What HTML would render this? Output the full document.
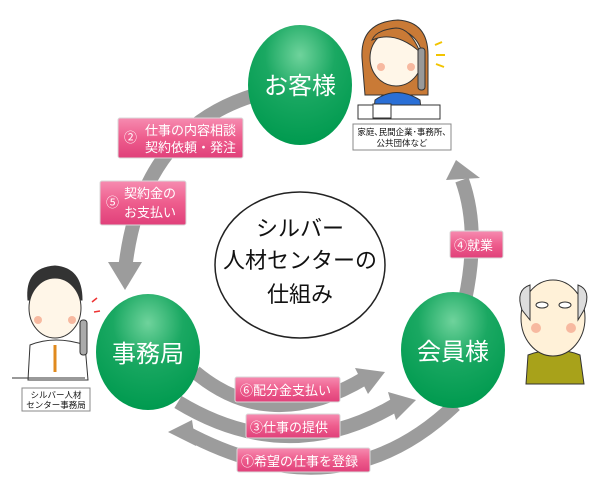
<!DOCTYPE html>
<html><head><meta charset="utf-8"><style>
html,body{margin:0;padding:0;background:#fff;}
svg text{font-family:"Liberation Sans","Noto Sans CJK JP",sans-serif;}
</style></head><body>
<svg width="600" height="491" viewBox="0 0 600 491" xmlns="http://www.w3.org/2000/svg">
<defs>
<radialGradient id="g" cx="50%" cy="25%" r="75%">
<stop offset="0" stop-color="#6fd39c"/><stop offset="0.45" stop-color="#1aa862"/><stop offset="1" stop-color="#009a4f"/></radialGradient>
<linearGradient id="p" x1="0" y1="0" x2="0" y2="1">
<stop offset="0" stop-color="#f68bb0"/><stop offset="0.5" stop-color="#ee5d8d"/><stop offset="1" stop-color="#e0407a"/></linearGradient>
</defs>
<g fill="none" stroke="#9c9c9c" stroke-width="14">
<path d="M255 95 Q140 130 125 270"/>
<path d="M465 300 Q480 230 462 180"/>
<path d="M195 372 Q270 435 365 378"/>
<path d="M178 402 Q290 470 400 402"/>
<path d="M455 405 Q340 515 185 432"/>
</g>
<g fill="#9c9c9c">
<polygon points="108,262 142,262 125,290"/>
<polygon points="446,180 480,178 456,160"/>
<polygon points="355,368 385,372 368,394"/>
<polygon points="388,392 416,400 396,420"/>
<polygon points="192,420 168,432 196,446"/>
</g>
<ellipse cx="300" cy="265" rx="85" ry="73" fill="#fff" stroke="#222" stroke-width="1.5"/>
<g font-size="22" fill="#111" text-anchor="middle">
<text x="300" y="236">シルバー</text>
<text x="300" y="268">人材センターの</text>
<text x="300" y="302">仕組み</text>
</g>
<ellipse cx="300" cy="85" rx="52" ry="60" fill="url(#g)"/>
<ellipse cx="148" cy="352" rx="52" ry="58" fill="url(#g)"/>
<ellipse cx="453" cy="350" rx="52" ry="58" fill="url(#g)"/>
<g font-size="24" fill="#fff" text-anchor="middle">
<text x="300" y="94">お客様</text>
<text x="148" y="362">事務局</text>
<text x="453" y="360">会員様</text>
</g>
<g fill="url(#p)" stroke="#d9d9d9" stroke-width="1">
<rect x="118" y="118" width="125" height="40" rx="2"/>
<rect x="100" y="181" width="86" height="44" rx="2"/>
<rect x="450" y="231" width="53" height="27" rx="2"/>
<rect x="235" y="377" width="105" height="25" rx="2"/>
<rect x="246" y="414" width="94" height="24" rx="2"/>
<rect x="237" y="448" width="133" height="24" rx="2"/>
</g>
<g font-size="13" fill="#fff">
<text x="124" y="142">②</text>
<text x="145" y="135">仕事の内容相談</text>
<text x="145" y="152">契約依頼・発注</text>
<text x="106" y="207">⑤</text>
<text x="124" y="198">契約金の</text>
<text x="124" y="217">お支払い</text>
<text x="454" y="250">④就業</text>
<text x="240" y="395">⑥配分金支払い</text>
<text x="250" y="432">③仕事の提供</text>
<text x="241" y="466">①希望の仕事を登録</text>
</g>
<rect x="353" y="124" width="98" height="26" fill="#fff" stroke="#888" stroke-width="1"/>
<text x="402" y="135" font-size="8.5" text-anchor="middle" fill="#111">家庭､民間企業･事務所､</text>
<text x="402" y="146" font-size="8.5" text-anchor="middle" fill="#111">公共団体など</text>
<rect x="22" y="388" width="68" height="23" fill="#fff" stroke="#888" stroke-width="1"/>
<text x="56" y="398" font-size="8.5" text-anchor="middle" fill="#111">シルバー人材</text>
<text x="56" y="408" font-size="8.5" text-anchor="middle" fill="#111">センター事務局</text>
<!-- woman -->
<g stroke="#333" stroke-width="1">
<path d="M362 58 Q360 22 398 20 Q428 22 428 55 L428 95 L365 95 Z" fill="#c97a36"/>
<ellipse cx="396" cy="58" rx="26" ry="28" fill="#fff6e8"/>
<path d="M372 40 Q395 30 420 52 Q410 28 396 28 Q376 30 372 40Z" fill="#c97a36"/>
<path d="M375 100 Q396 85 420 100 L422 118 L373 118Z" fill="#2a6fd6"/>
<rect x="358" y="105" width="82" height="14" fill="#fff"/>
<rect x="373" y="104" width="18" height="14" fill="#fff"/>
<rect x="418" y="48" width="7" height="42" fill="#999" rx="3"/>
</g>
<circle cx="381" cy="67" r="4" fill="#f7b9a0"/><circle cx="411" cy="67" r="4" fill="#f7b9a0"/>
<g stroke="#f2c400" stroke-width="2"><line x1="435" y1="45" x2="442" y2="42"/><line x1="436" y1="55" x2="445" y2="55"/><line x1="436" y1="64" x2="444" y2="67"/></g>
<!-- man -->
<g stroke="#333" stroke-width="1">
<path d="M28 300 Q25 268 55 266 Q82 268 82 300 Z" fill="#333"/>
<ellipse cx="55" cy="308" rx="26" ry="30" fill="#fff6e8"/>
<path d="M30 345 Q55 335 85 345 L88 380 L28 380Z" fill="#fff"/>
<line x1="55" y1="345" x2="55" y2="372" stroke="#e08a1e" stroke-width="3"/>
<rect x="80" y="320" width="7" height="35" fill="#aaa" rx="3"/>
<line x1="12" y1="378" x2="85" y2="378"/>
</g>
<circle cx="38" cy="320" r="4" fill="#f7b9a0"/><circle cx="72" cy="320" r="4" fill="#f7b9a0"/>
<g stroke="#e33" stroke-width="1.5"><line x1="92" y1="302" x2="97" y2="298"/><line x1="94" y1="312" x2="100" y2="311"/></g>
<!-- elder -->
<g stroke="#333" stroke-width="1">
<path d="M528 355 Q555 345 580 355 L584 384 L526 384Z" fill="#a8a21a"/>
<ellipse cx="553" cy="318" rx="32" ry="38" fill="#fff1d8"/>
<path d="M522 310 Q515 290 530 285 L530 320Z" fill="#ddd"/>
<path d="M584 310 Q592 290 578 285 L578 320Z" fill="#ddd"/>
<ellipse cx="542" cy="305" rx="6" ry="3" fill="#fff"/><ellipse cx="565" cy="305" rx="6" ry="3" fill="#fff"/>
</g>
<circle cx="536" cy="328" r="5" fill="#f7b9a0"/><circle cx="571" cy="328" r="5" fill="#f7b9a0"/>
</svg>
</body></html>
